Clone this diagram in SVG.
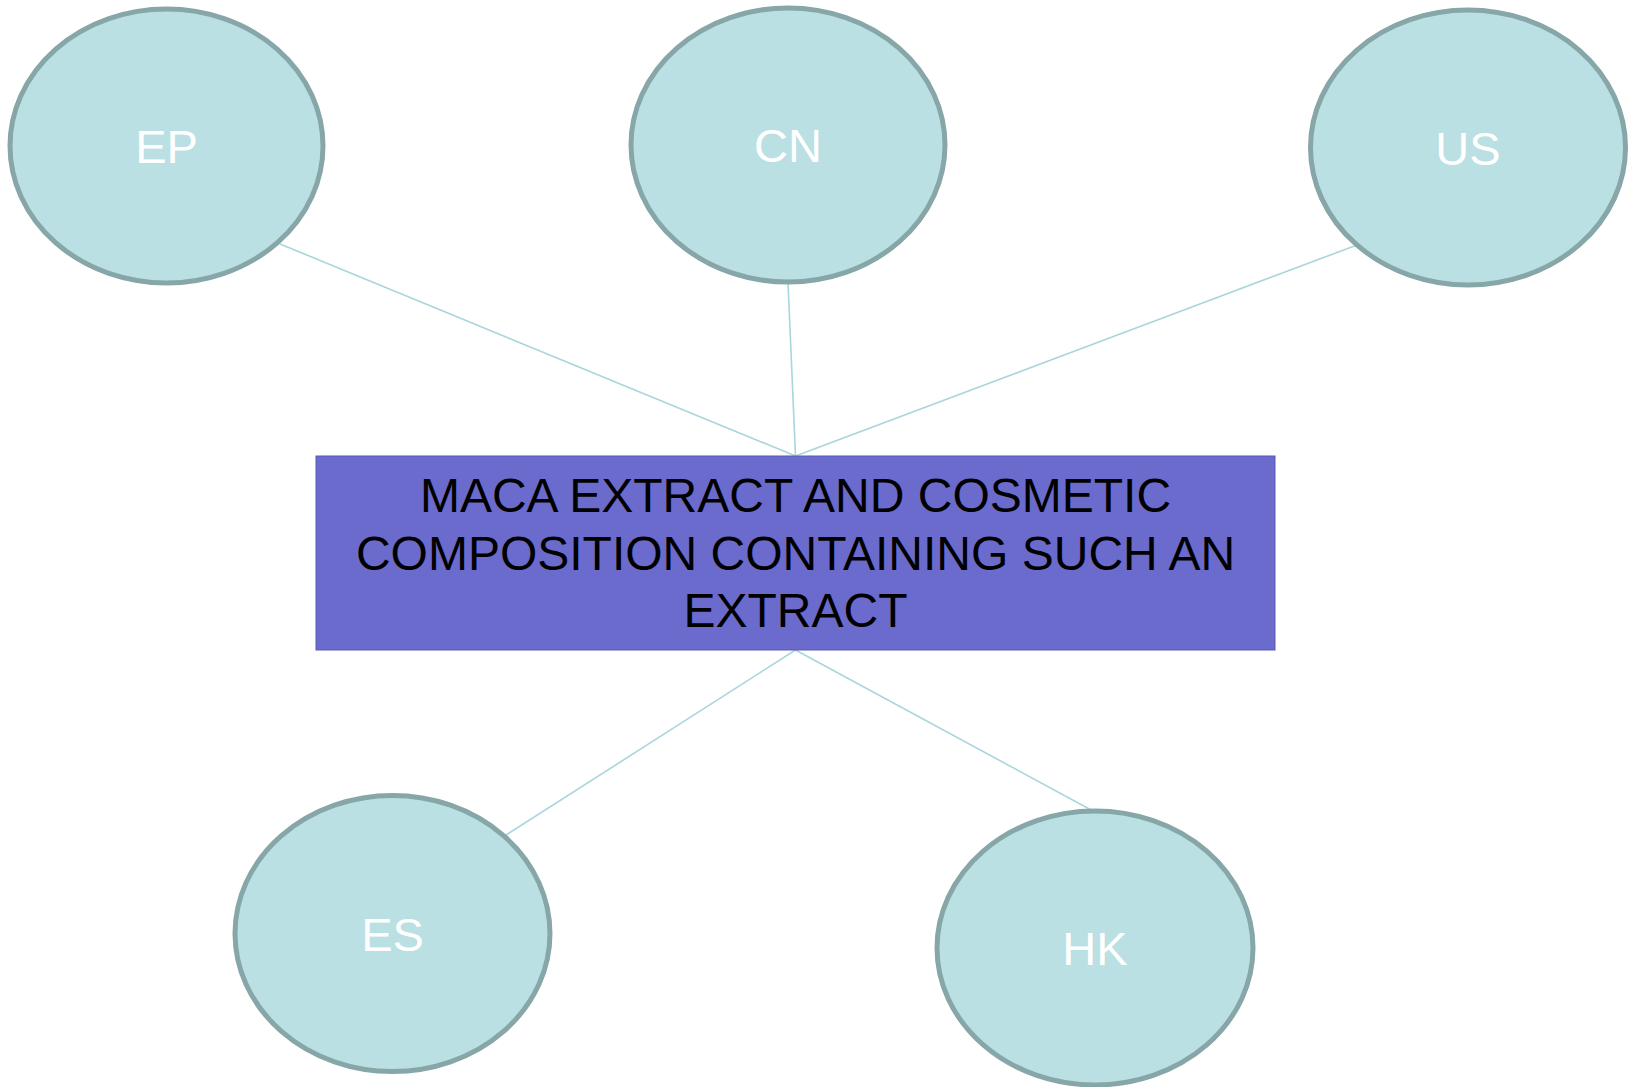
<svg xmlns="http://www.w3.org/2000/svg" width="1637" height="1087" viewBox="0 0 1637 1087">
<style>
.node ellipse{fill:#bbe0e3;stroke:#87a6a8;stroke-width:5}
.node text{fill:#ffffff;font-family:"Liberation Sans",Arial,sans-serif;font-size:47px;text-anchor:middle}
.edge{stroke:#a9d6dc;stroke-width:1.6;fill:none}
.main rect{fill:#6b6bcd;stroke:#5a5ab4;stroke-width:1}
.main text{fill:#000000;font-family:"Liberation Sans",Arial,sans-serif;font-size:48px;text-anchor:middle}
</style>
<rect width="1637" height="1087" fill="#ffffff"/>
<g id="connectors">
<line class="edge" x1="795.5" y1="456" x2="280" y2="244"/>
<line class="edge" x1="795.5" y1="456" x2="788" y2="282"/>
<line class="edge" x1="795.5" y1="456" x2="1357" y2="245"/>
<line class="edge" x1="795.5" y1="650" x2="503" y2="837"/>
<line class="edge" x1="795.5" y1="650" x2="1093" y2="811"/>
</g>
<g id="main" class="main">
<rect x="316" y="456" width="959" height="194"/>
<text x="795.5" y="512">MACA EXTRACT AND COSMETIC</text>
<text x="795.5" y="569.5">COMPOSITION CONTAINING SUCH AN</text>
<text x="795.5" y="627">EXTRACT</text>
</g>
<g id="EP" class="node">
<ellipse cx="166.5" cy="146" rx="156.5" ry="137"/>
<text x="166.5" y="163">EP</text>
</g>
<g id="CN" class="node">
<ellipse cx="788" cy="145" rx="157" ry="137"/>
<text x="788" y="162">CN</text>
</g>
<g id="US" class="node">
<ellipse cx="1468" cy="147.5" rx="157.5" ry="137.5"/>
<text x="1468" y="164.5">US</text>
</g>
<g id="ES" class="node">
<ellipse cx="392.5" cy="933.5" rx="157.5" ry="138"/>
<text x="392.5" y="950.5">ES</text>
</g>
<g id="HK" class="node">
<ellipse cx="1095" cy="948" rx="158" ry="137"/>
<text x="1095" y="965">HK</text>
</g>
</svg>
